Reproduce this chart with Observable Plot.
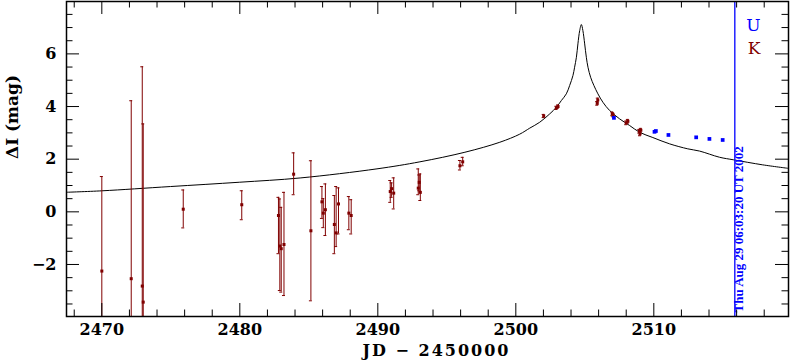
<!DOCTYPE html>
<html><head><meta charset="utf-8">
<script src="https://cdn.jsdelivr.net/npm/d3@7"></script>
<script src="https://cdn.jsdelivr.net/npm/@observablehq/plot@0.6"></script>
<style>body{margin:0;background:#fff}</style>
</head><body><div id="chart"></div>
<script>
// K-band points: day (JD-2450000), magnitude, error bar low/high
const kDay = [2470.0, 2472.13, 2472.93, 2473.0, 2475.9, 2480.14, 2482.8, 2482.9, 2483.0, 2483.2, 2483.9, 2485.15, 2485.95, 2486.05, 2486.2, 2486.85, 2486.98, 2487.15, 2487.9, 2488.07, 2490.9, 2491.0, 2491.15, 2492.93, 2493.0, 2493.08, 2495.95, 2496.15, 2502.02, 2502.94, 2503.06, 2505.9, 2505.94, 2506.99, 2507.06, 2508.0, 2508.12, 2508.95, 2509.0, 2509.06];
const kMag = [-2.25, -2.54, -2.82, -3.43, 0.10, 0.27, -0.14, -1.30, -1.40, -1.24, 1.43, -0.72, 0.38, -0.05, 0.08, -0.48, -0.80, 0.30, -0.05, -0.14, 0.77, 0.88, 0.71, 0.90, 1.12, 0.74, 1.75, 1.90, 3.64, 3.95, 4.00, 4.12, 4.25, 3.72, 3.68, 3.38, 3.44, 3.06, 2.96, 3.10];
const kLo  = [-5.84, -9.30, -11.1, -10.2, -0.61, -0.30, -1.59, -2.99, -3.05, -3.18, 0.65, -3.38, -0.25, -0.60, -0.90, -1.59, -1.32, -0.84, -0.68, -0.84, 0.36, 0.55, 0.11, 0.65, 0.80, 0.43, 1.59, 1.75, 3.58, 3.89, 3.94, 4.05, 4.18, 3.65, 3.61, 3.31, 3.37, 2.99, 2.89, 3.03];
const kHi  = [1.34, 4.22, 5.51, 3.34, 0.83, 0.80, 0.55, 0.49, 0.17, 0.74, 2.24, 1.94, 0.96, 0.50, 1.06, 0.62, 0.96, 0.91, 0.58, 0.46, 1.19, 1.10, 1.29, 1.63, 1.40, 1.44, 1.95, 2.07, 3.70, 4.01, 4.06, 4.19, 4.32, 3.79, 3.75, 3.45, 3.51, 3.13, 3.03, 3.17];

// U-band points
const uDay = [2507.11, 2510.05, 2510.15, 2511.06, 2513.07, 2514.03, 2514.99];
const uMag = [3.57, 3.04, 3.07, 2.92, 2.83, 2.77, 2.73];

// model curve
const curveDay = [2467.47, 2470.00, 2474.97, 2479.96, 2484.37, 2489.94, 2493.05, 2496.31, 2498.84, 2500.28, 2501.01, 2501.73, 2502.46, 2502.94, 2503.30, 2503.66, 2503.90, 2504.14, 2504.26, 2504.39, 2504.50, 2504.63, 2504.75, 2504.86, 2504.99, 2505.11, 2505.23, 2505.42, 2505.66, 2505.95, 2506.31, 2506.80, 2507.52, 2508.25, 2508.97, 2509.93, 2511.14, 2512.46, 2513.31, 2514.76, 2515.79, 2517.89, 2519.69];
const curveMag = [0.744, 0.798, 0.961, 1.124, 1.287, 1.633, 1.900, 2.264, 2.643, 2.950, 3.180, 3.403, 3.722, 3.973, 4.227, 4.482, 4.797, 5.177, 5.492, 5.872, 6.380, 6.886, 7.114, 6.886, 6.380, 5.872, 5.492, 5.112, 4.797, 4.482, 4.163, 3.848, 3.532, 3.278, 3.023, 2.822, 2.583, 2.393, 2.309, 2.074, 1.975, 1.785, 1.656];

// current-time marker
const markDay = [2515.87];
const markLabel = ["Thu Aug 29 06:03:20 UT 2002"];

// ticks
const xMajor = [2470, 2480, 2490, 2500, 2510];
const xMinor = [2468, 2472, 2474, 2476, 2478, 2482, 2484, 2486, 2488, 2492, 2494, 2496, 2498, 2502, 2504, 2506, 2508, 2512, 2514, 2516, 2518];
const yMajor = [-2, 0, 2, 4, 6];
const yMinor = [-3.5, -3, -2.5, -1.5, -1, -0.5, 0.5, 1, 1.5, 2.5, 3, 3.5, 4.5, 5, 5.5, 6.5, 7, 7.5];

const legendText = ["U", "K"];
const xLabel = "JD \u2212 2450000";
const yLabel = "\u0394I (mag)";

const kColor = "#800000", uColor = "#0000ff";
const W = 790, H = 362, mT = 1, mB = 46, mL = 66, mR = 2;
const plotH = H - mT - mB, plotW = W - mL - mR;

const K = kDay.map((d, i) => ({day: d, mag: kMag[i], lo: kLo[i], hi: kHi[i]}));
const U = uDay.map((d, i) => ({day: d, mag: uMag[i]}));
const curve = curveDay.map((d, i) => ({day: d, mag: curveMag[i]}));
const marks = markDay.map((d, i) => ({day: d, label: markLabel[i]}));

const tk = (len) => ({bottom: {insetTop: plotH - len}, top: {insetBottom: plotH - len}, left: {insetRight: plotW - len}, right: {insetLeft: plotW - len}});

const chart = Plot.plot({
  width: W, height: H,
  marginTop: mT, marginBottom: mB, marginLeft: mL, marginRight: mR,
  style: {fontFamily: "DejaVu Serif", background: "#fff", color: "#000"},
  x: {domain: [2467.44, 2519.76], axis: null},
  y: {domain: [-3.976, 7.99], axis: null},
  marks: [
    Plot.line(curve, {x: "day", y: "mag", stroke: "#000", strokeWidth: 1, curve: "catmull-rom", clip: true}),
    Plot.ruleX(K, {x: "day", y1: "lo", y2: "hi", stroke: kColor, strokeWidth: 1, clip: true}),
    Plot.ruleY(K, {y: "hi", x1: "day", x2: "day", insetLeft: -1.5, insetRight: -1.5, stroke: kColor, strokeWidth: 1, clip: true}),
    Plot.ruleY(K, {y: "lo", x1: "day", x2: "day", insetLeft: -1.5, insetRight: -1.5, stroke: kColor, strokeWidth: 1, clip: true}),
    Plot.dot(K, {x: "day", y: "mag", symbol: "square", r: 1.7, fill: kColor, stroke: null}),
    Plot.dot(U, {x: "day", y: "mag", symbol: "square", r: 2.1, fill: uColor, stroke: null}),
    Plot.ruleX(marks, {x: "day", stroke: uColor, strokeWidth: 1.3}),
    Plot.text(marks, {x: "day", text: "label", frameAnchor: "bottom", rotate: -90, textAnchor: "start", dx: 8, dy: -4, fill: uColor, fontSize: 13, fontWeight: "bold", fontFamily: "Liberation Serif"}),
    // ticks (inside)
    Plot.ruleX(xMajor, {...tk(13).bottom, stroke: "#000"}),
    Plot.ruleX(xMinor, {...tk(6.5).bottom, stroke: "#000"}),
    Plot.ruleX(xMajor, {...tk(13).top, stroke: "#000"}),
    Plot.ruleX(xMinor, {...tk(6.5).top, stroke: "#000"}),
    Plot.ruleY(yMajor, {...tk(13).left, stroke: "#000"}),
    Plot.ruleY(yMinor, {...tk(6.5).left, stroke: "#000"}),
    Plot.ruleY(yMajor, {...tk(13).right, stroke: "#000"}),
    Plot.ruleY(yMinor, {...tk(6.5).right, stroke: "#000"}),
    Plot.frame({stroke: "#000", strokeWidth: 1.5}),
    Plot.axisX(xMajor, {tickSize: 0, tickPadding: 7, fontSize: 16, fontWeight: "bold", label: null, tickFormat: d => String(d)}),
    Plot.axisY(yMajor, {tickSize: 0, tickPadding: 10, fontSize: 16, fontWeight: "bold", label: null}),
    Plot.text([xLabel], {text: d => d, frameAnchor: "bottom", dx: 9, dy: 39, fontSize: 16, fontWeight: "bold"}),
    Plot.text([yLabel], {text: d => d, frameAnchor: "left", dx: -54, rotate: -90, fontSize: 17, fontWeight: "bold"}),
    Plot.text([legendText[0]], {text: d => d, frameAnchor: "top-right", dx: -28, dy: 17, fill: uColor, fontSize: 17}),
    Plot.text([legendText[1]], {text: d => d, frameAnchor: "top-right", dx: -28, dy: 40, fill: kColor, fontSize: 17})
  ]
});
// widen the x-axis label spacing as in the original
d3.select(chart).selectAll("text").filter(function() { return this.textContent === xLabel; }).attr("letter-spacing", "2px");
document.getElementById("chart").append(chart);
</script>
</body></html>
